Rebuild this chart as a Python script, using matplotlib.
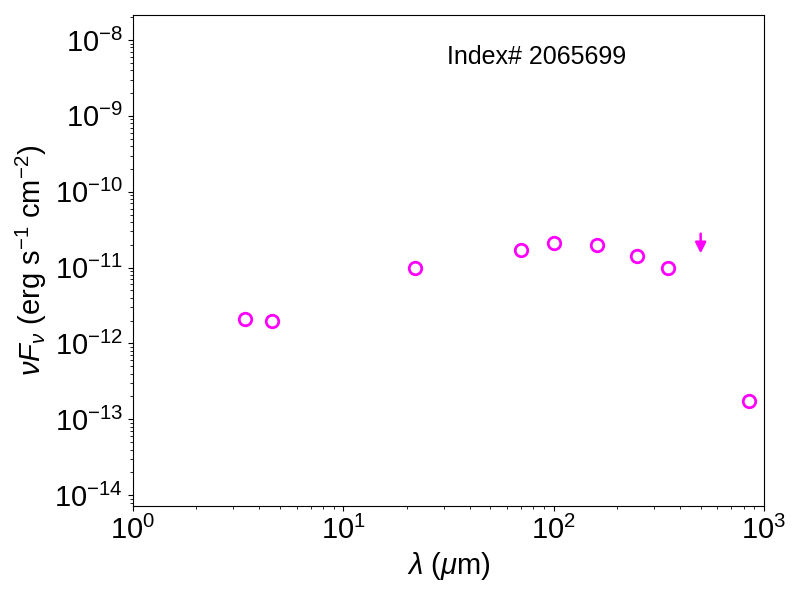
import matplotlib
matplotlib.use("Agg")
import matplotlib.pyplot as plt

plt.rcParams['font.family'] = ['Liberation Sans', 'DejaVu Sans']
plt.rcParams['mathtext.fontset'] = 'custom'
plt.rcParams['mathtext.rm'] = 'Liberation Sans'
plt.rcParams['mathtext.it'] = 'Liberation Sans:italic'
plt.rcParams['mathtext.bf'] = 'Liberation Sans:bold'

# photometry (detections)
wave = [3.4, 4.6, 22.0, 70.0, 100.0, 160.0, 250.0, 350.0, 850.0]
nufnu = [2.07e-12, 2.0e-12, 1.0e-11, 1.73e-11, 2.13e-11, 2.0e-11, 1.44e-11, 0.99e-11, 1.75e-13]

# upper limits
wave_ul = [500.0]
nufnu_ul = [2.8e-11]

label = "Index# 2065699"

fig, ax = plt.subplots(figsize=(8, 6), dpi=100)
fig.subplots_adjust(left=0.166, right=0.955, bottom=0.157, top=0.975)

ax.plot(wave, nufnu, 'o', mfc='none', mec='magenta', mew=2, ms=9, ls='none')

for w, f in zip(wave_ul, nufnu_ul):
    ax.annotate('', xy=(w, f * 0.55), xytext=(w, f),
                arrowprops=dict(arrowstyle='-|>', color='magenta', lw=1.8,
                                mutation_scale=16, shrinkA=0, shrinkB=0))

ax.set_xscale('log')
ax.set_yscale('log')
ax.set_xlim(1, 1000)
ax.set_ylim(10**-14.14, 10**-7.67)

ax.set_xlabel(r'$\lambda$ ($\mu$m)', fontsize=21)
ax.set_ylabel(r'$\nu F_\nu$ (erg s$^{-1}$ cm$^{-2}$)', fontsize=21)
ax.tick_params(axis='both', which='major', labelsize=21)

ax.text(0.64, 0.915, label, transform=ax.transAxes, fontsize=18, ha='center', va='center')

fig.savefig('out.png', dpi=100)
